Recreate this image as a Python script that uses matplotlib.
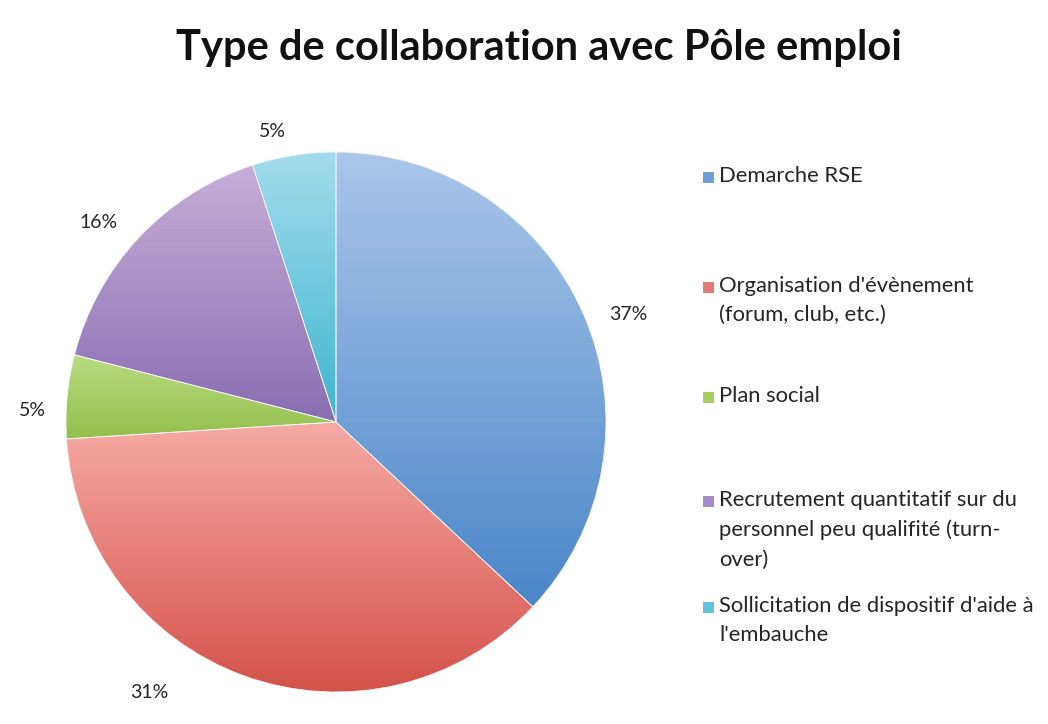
import numpy as np
import matplotlib
matplotlib.use("Agg")
import matplotlib.pyplot as plt
from matplotlib.colors import LinearSegmentedColormap
from matplotlib.patches import Rectangle

plt.rcParams["font.family"] = ["Lato", "DejaVu Sans"]

# data (slice sizes from the drawn angles, labels as printed)
categories = [
    "Demarche RSE",
    "Organisation d'évènement\n(forum, club, etc.)",
    "Plan social",
    "Recrutement quantitatif sur du\npersonnel peu qualifité (turn-\nover)",
    "Sollicitation de dispositif d'aide à\nl'embauche",
]
shares = [37, 37, 5, 16, 5]
pct_labels = ["37%", "31%", "5%", "16%", "5%"]

# styles: light (top) and dark (bottom) of each slice's gradient
light = ["#aac6ea", "#f6aaa4", "#b9dc82", "#c6aed8", "#a2dcec"]
dark = ["#4a86c9", "#d4524a", "#93bf4c", "#8a6db2", "#3fb5d0"]
mid = ["#6f9fd8", "#e07a72", "#a6cd62", "#a58cc6", "#5ec3dc"]
text_color = "#252525"

fig = plt.figure(figsize=(10.48, 7.24), dpi=100)
fig.patch.set_facecolor("white")

# pie axes: radius 1 -> 270 px, centre at (336, 422) px
W, H = 1048, 724
cx, cy, r = 336, 422, 270
ax = fig.add_axes([(cx - r) / W, (H - cy - r) / H, 2 * r / W, 2 * r / H])

wedges, texts = ax.pie(
    shares,
    colors=mid,
    startangle=90,
    counterclock=False,
    labels=pct_labels,
    labeldistance=1.18,
    wedgeprops=dict(edgecolor="#f4f4f4", linewidth=0.6),
    textprops=dict(fontsize=14, color=text_color),
)
ax.set_xlim(-1, 1)
ax.set_ylim(-1, 1)
ax.set_aspect("auto")

# vertical gradient inside each slice
grad = np.linspace(1, 0, 256).reshape(-1, 1)
for w, lo, hi in zip(wedges, light, dark):
    bb = w.get_path().get_extents()
    cmap = LinearSegmentedColormap.from_list("g", [hi, lo])
    im = ax.imshow(grad, cmap=cmap, extent=(bb.x0, bb.x1, bb.y0, bb.y1),
                   aspect="auto", origin="upper", zorder=w.get_zorder(),
                   interpolation="bilinear")
    im.set_clip_path(w)
    w.set_facecolor("none")
    w.set_zorder(w.get_zorder() + 0.5)

# labels centred on their spot and sitting a little lower, like the original
for t in texts:
    x, y = t.get_position()
    t.set_position((x, y - 0.07))
    t.set_ha("center")
    t.set_va("center")
# small nudges to match where the original put them
texts[1].set_position((-0.69, -1.0))
x, y = texts[2].get_position()
texts[2].set_position((x + 0.05, y))
x, y = texts[4].get_position()
texts[4].set_position((x - 0.05, y - 0.02))
x, y = texts[3].get_position()
texts[3].set_position((x - 0.02, y))

fig.text(0.514, 0.934, "Type de collaboration avec Pôle emploi",
         ha="center", va="center", fontsize=30, fontweight="bold", color="#111111")

# legend drawn entry by entry (uneven spacing in the original)
legend_y = [178, 288, 398, 502, 608]
for lab, col, y in zip(categories, mid, legend_y):
    fig.add_artist(Rectangle((703 / W, 1 - (y + 5) / H), 11 / W, 11 / H,
                             transform=fig.transFigure, facecolor=col, edgecolor="none"))
    fig.text(719 / W, 1 - (y - 12) / H, lab, ha="left", va="top", fontsize=15.8,
             color=text_color, linespacing=1.58)

fig.savefig("out.png", dpi=100)
